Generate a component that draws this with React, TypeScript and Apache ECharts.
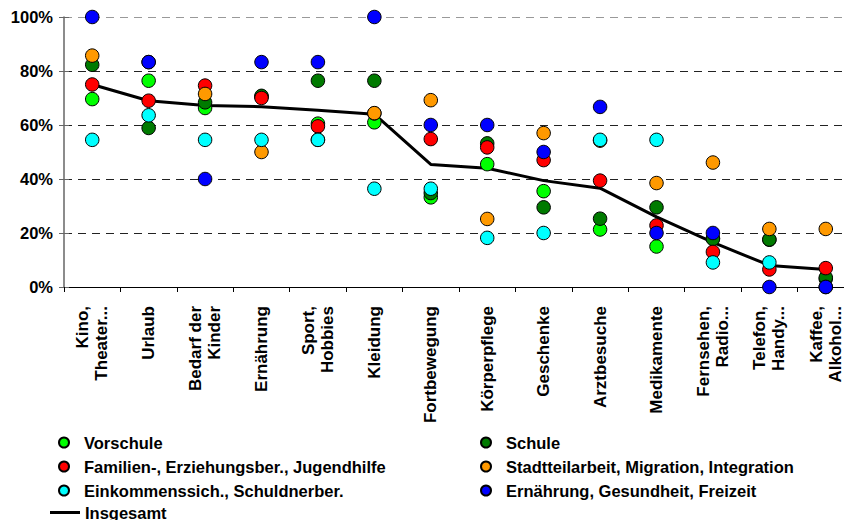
import React, { useEffect, useRef } from "react";
import * as echarts from "echarts";

const categories = [
  "Kino,\nTheater...",
  "Urlaub",
  "Bedarf der\nKinder",
  "Ernährung",
  "Sport,\nHobbies",
  "Kleidung",
  "Fortbewegung",
  "Körperpflege",
  "Geschenke",
  "Arztbesuche",
  "Medikamente",
  "Fernsehen,\nRadio...",
  "Telefon,\nHandy...",
  "Kaffee,\nAlkohol...",
];

// Anteile in Prozent je Bereich
const vorschule = [69.6, 76.4, 66.3, 70.5, 60.5, 61, 33.2, 45.5, 35.5, 21.3, 15, 18, 17.5, 3];
const schule = [82.3, 58.9, 68.4, 70.8, 76.4, 76.4, 34.8, 53.2, 29.5, 25.3, 29.5, 17.8, 17.6, 3.5];
const familien = [75, 69, 74.6, 70, 59.5, 64.3, 54.8, 51.7, 47, 39.4, 22.8, 13, 6.5, 7];
const stadtteil = [85.7, 83.3, 71.5, 50, 54.5, 64.4, 69.2, 25.2, 57, 54.2, 38.5, 46.1, 21.5, 21.5];
const einkommen = [54.5, 63.6, 54.5, 54.5, 54.5, 36.4, 36.4, 18.2, 20, 54.5, 54.5, 9.1, 9.1, 0];
const ernaehrung = [100, 83.3, 40, 83.3, 83.3, 100, 60, 60, 50, 66.7, 20, 20, 0, 0];
const insgesamt = [75, 69, 67.2, 66.8, 65.5, 64, 45.4, 44, 39.4, 36.6, 26, 16.5, 8, 6.5];

const yTicks = [0, 20, 40, 60, 80, 100];

const FONT = "'Liberation Sans', Arial, sans-serif";

const scatterGroups = [
  { name: "Vorschule", color: "#00FF00", data: vorschule },
  { name: "Schule", color: "#007A00", data: schule },
  { name: "Familien-, Erziehungsber., Jugendhilfe", color: "#FF0000", data: familien },
  { name: "Stadtteilarbeit, Migration, Integration", color: "#FF9900", data: stadtteil },
  { name: "Einkommenssich., Schuldnerber.", color: "#00FFFF", data: einkommen },
  { name: "Ernährung, Gesundheit, Freizeit", color: "#0000FF", data: ernaehrung },
];

// thick bar centred in a 30x10 box, used as the legend icon of the total line
const LINE_ICON = "path://M0,0L0,0.01ZM0,3.5L30,3.5L30,6.5L0,6.5ZM0,10L0,9.99Z";

export default function App() {
  const ref = useRef<HTMLDivElement>(null);

  useEffect(() => {
    if (!ref.current) return;
    const chart = echarts.init(ref.current, undefined, { renderer: "svg" });

    const legendBase = {
      orient: "vertical" as const,
      top: 434,
      padding: 0,
      itemWidth: 30,
      itemHeight: 10,
      itemGap: 7,
      itemTextGap: 3,
      selectedMode: false,
      textStyle: {
        fontFamily: FONT,
        fontSize: 16.5,
        fontWeight: "bold" as const,
        color: "#000",
      },
    };

    chart.setOption({
      animation: false,
      backgroundColor: "#fff",
      grid: { left: 64, top: 17, width: 790, height: 270, containLabel: false },
      legend: [
        {
          ...legendBase,
          left: 58,
          data: [
            "Vorschule",
            "Familien-, Erziehungsber., Jugendhilfe",
            "Einkommenssich., Schuldnerber.",
          ],
        },
        {
          ...legendBase,
          left: 480,
          data: [
            "Schule",
            "Stadtteilarbeit, Migration, Integration",
            "Ernährung, Gesundheit, Freizeit",
          ],
        },
        {
          ...legendBase,
          left: 50,
          top: 504,
          data: [
            { name: "Insgesamt", icon: LINE_ICON, itemStyle: { color: "#000", borderWidth: 0 } },
          ],
        },
      ],
      xAxis: {
        type: "category",
        data: categories,
        boundaryGap: true,
        axisLine: { show: true, lineStyle: { color: "#000", width: 1 } },
        axisTick: { show: true, alignWithLabel: false, length: 5, lineStyle: { color: "#000" } },
        axisLabel: {
          rotate: 90,
          interval: 0,
          margin: 19,
          fontFamily: FONT,
          fontSize: 17,
          fontWeight: "bold",
          color: "#000",
          lineHeight: 19,
        },
        splitLine: { show: false },
      },
      yAxis: [
        {
          type: "value",
          min: yTicks[0],
          max: yTicks[yTicks.length - 1],
          interval: 20,
          axisLine: { show: true, lineStyle: { color: "#666", width: 1.5 } },
          axisTick: { show: true, length: 5, lineStyle: { color: "#666" } },
          axisLabel: {
            formatter: "{value}%",
            margin: 11,
            fontFamily: FONT,
            fontSize: 16.5,
            fontWeight: "bold",
            color: "#000",
          },
          splitLine: {
            show: true,
            lineStyle: {
              color: ["#222", "#222", "#222", "#222", "#222", "#999"],
              type: [8, 6],
              width: 1,
            },
          },
        },
        {
          type: "value",
          position: "left",
          min: yTicks[0],
          max: yTicks[yTicks.length - 1],
          interval: 20,
          axisLine: { show: false },
          axisTick: { show: true, inside: true, length: 5, lineStyle: { color: "#666" } },
          axisLabel: { show: false },
          splitLine: { show: false },
        },
      ],
      series: [
        {
          name: "Insgesamt",
          type: "line",
          data: insgesamt,
          symbol: "none",
          showSymbol: false,
          color: "#000",
          lineStyle: { color: "#000", width: 3 },
          z: 2,
        },
        ...scatterGroups.map((g) => ({
          name: g.name,
          type: "scatter",
          data: g.data,
          symbol: "circle",
          symbolSize: 13.5,
          color: g.color,
          itemStyle: { color: g.color, borderColor: "#000", borderWidth: 1, opacity: 1 },
          z: 3,
        })),
      ],
    });

    return () => chart.dispose();
  }, []);

  // the plot runs slightly past the right edge of the page, so the canvas is wider than the view
  return (
    <div
      ref={ref}
      style={{ position: "fixed", left: 0, top: 0, width: 860, height: 520, background: "#fff" }}
    />
  );
}
